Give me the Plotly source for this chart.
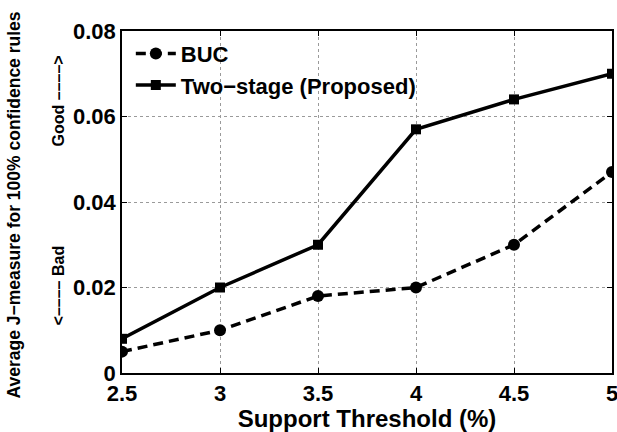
import plotly.graph_objects as go

support = [2.5, 3, 3.5, 4, 4.5, 5]
buc = [0.005, 0.010, 0.018, 0.020, 0.030, 0.047]
two_stage = [0.008, 0.020, 0.030, 0.057, 0.064, 0.070]
x_ticks = [2.5, 3, 3.5, 4, 4.5, 5]
x_tick_text = ["2.5", "3", "3.5", "4", "4.5", "5"]

FONT = "Liberation Sans, Arial, Helvetica, sans-serif"

fig = go.Figure()
fig.add_trace(go.Scatter(
    x=support, y=buc, mode="lines+markers", name="BUC",
    line=dict(color="black", width=3.5, dash="10px,6px"),
    marker=dict(symbol="circle", size=12, color="black"),
))
fig.add_trace(go.Scatter(
    x=support, y=two_stage, mode="lines+markers", name="Two−stage (Proposed)",
    line=dict(color="black", width=3.5),
    marker=dict(symbol="square", size=10, color="black"),
))

axis_common = dict(
    showline=True, linecolor="black", linewidth=1.5, mirror="ticks",
    ticks="inside", ticklen=5, tickcolor="black", tickwidth=1,
    showgrid=True, gridcolor="#9a9a9a", griddash="dot", gridwidth=1,
    zeroline=False, automargin=False, ticklabeloverflow="allow",
    tickfont=dict(family=FONT, size=22, color="black", weight="bold"),
)

fig.update_xaxes(range=[2.5, 5], tickmode="array", tickvals=x_ticks, ticktext=x_tick_text,
                 title=dict(text="Support Threshold (%)",
                            font=dict(family=FONT, size=24, color="black", weight="bold"),
                            standoff=2),
                 **axis_common)
fig.update_yaxes(range=[0, 0.08], dtick=0.02, tick0=0, **axis_common)

fig.add_annotation(
    text="Average J−measure for 100% confidence rules", textangle=-90,
    xref="paper", yref="paper", x=(14 - 122) / 490, y=0.49,
    xanchor="center", yanchor="middle", showarrow=False,
    font=dict(family=FONT, size=17.5, color="black", weight="bold"),
)
fig.add_annotation(
    text="Good ––––>", textangle=-90,
    xref="paper", yref="paper", x=(58 - 122) / 490, y=0.794,
    xanchor="center", yanchor="middle", showarrow=False,
    font=dict(family=FONT, size=16, color="black", weight="bold"),
)
fig.add_annotation(
    text="<–––– Bad", textangle=-90,
    xref="paper", yref="paper", x=(58 - 122) / 490, y=0.256,
    xanchor="center", yanchor="middle", showarrow=False,
    font=dict(family=FONT, size=16, color="black", weight="bold"),
)

fig.update_layout(
    width=617, height=432,
    margin=dict(l=122, r=5, t=31, b=59),
    paper_bgcolor="white", plot_bgcolor="white",
    showlegend=True,
    legend=dict(x=0.018, y=0.995, xanchor="left", yanchor="top",
                bgcolor="rgba(255,255,255,0)", borderwidth=0,
                font=dict(family=FONT, size=22, color="black", weight="bold"),
                itemwidth=40, tracegroupgap=0),
)

fig.write_html("out.html", config={"displayModeBar": False},
               post_script="document.body.style.margin='0';")
